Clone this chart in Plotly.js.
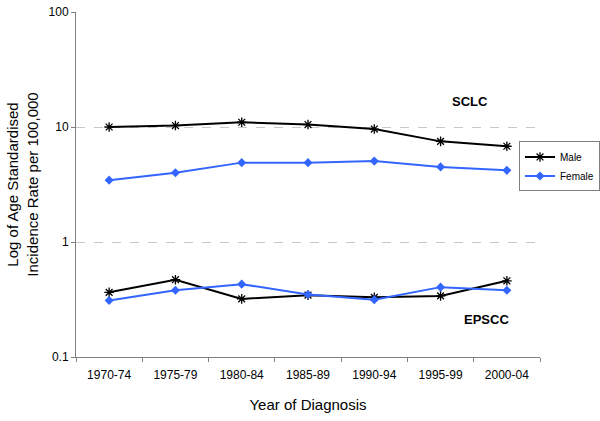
<!DOCTYPE html>
<html><head><meta charset="utf-8">
<script src="https://cdn.plot.ly/plotly-3.0.1.min.js"></script>
<style>html,body{margin:0;padding:0;background:#fff}#chart{width:600px;height:421px}</style>
</head><body><div id="chart"></div>
<script>
const periods = ["1970-74","1975-79","1980-84","1985-89","1990-94","1995-99","2000-04"];
const maleSCLC = [10.0, 10.3, 11.0, 10.5, 9.6, 7.5, 6.8];
const femaleSCLC = [3.45, 4.0, 4.9, 4.9, 5.05, 4.5, 4.2];
const maleEPSCC = [0.365, 0.47, 0.32, 0.345, 0.33, 0.34, 0.46];
const femaleEPSCC = [0.31, 0.38, 0.43, 0.35, 0.315, 0.405, 0.38];
const yTicks = [0.1, 1, 10, 100];
const yTickText = ["0.1", "1", "10", "100"];

const maleStyle = {mode:"lines+markers", line:{color:"#000000", width:2}, marker:{symbol:"asterisk-open", size:8, color:"#000000", line:{color:"#000000", width:1.3}}};
const femaleStyle = {mode:"lines+markers", line:{color:"#3366FF", width:2}, marker:{symbol:"diamond", size:7, color:"#3366FF"}};

const traces = [
  Object.assign({x:periods, y:maleSCLC, name:"Male", legendgroup:"m"}, maleStyle),
  Object.assign({x:periods, y:femaleSCLC, name:"Female", legendgroup:"f"}, femaleStyle),
  Object.assign({x:periods, y:maleEPSCC, name:"Male", legendgroup:"m", showlegend:false}, maleStyle),
  Object.assign({x:periods, y:femaleEPSCC, name:"Female", legendgroup:"f", showlegend:false}, femaleStyle)
];

const layout = {
  width:600, height:421,
  paper_bgcolor:"#fff", plot_bgcolor:"#fff",
  margin:{l:76, r:60, t:12, b:64, autoexpand:false},
  font:{family:"Liberation Sans, Arial, sans-serif", color:"#000"},
  showlegend:true,
  legend:{xref:"container", yref:"container", x:0.865, xanchor:"left", y:0.664, yanchor:"top",
    bgcolor:"#fff", bordercolor:"#808080", borderwidth:1,
    font:{size:10}, tracegroupgap:0, itemwidth:30},
  xaxis:{type:"category", range:[-0.5,6.5], showline:true, linecolor:"#808080", linewidth:1,
    ticks:"outside", tickson:"boundaries", ticklen:4, tickcolor:"#808080", ticklabelstandoff:7,
    showgrid:false, tickfont:{size:12}, zeroline:false, automargin:false,
    title:{text:"Year of Diagnosis", font:{size:15}, standoff:18}},
  yaxis:{type:"log", range:[-1,2], tickvals:yTicks, ticktext:yTickText, automargin:false,
    showline:true, linecolor:"#808080", linewidth:1, ticks:"outside", ticklen:4, tickcolor:"#808080",
    showgrid:true, gridcolor:"#c8c8c8", griddash:"dash", gridwidth:1, tickfont:{size:12}, zeroline:false,
    title:{text:"Log of Age Standardised<br>Incidence Rate per 100,000", font:{size:15}, standoff:6}},
  annotations:[
    {text:"<b>SCLC</b>", x:5.45, y:Math.log10(16.6), xref:"x", yref:"y", showarrow:false, font:{size:13}},
    {text:"<b>EPSCC</b>", x:5.7, y:Math.log10(0.21), xref:"x", yref:"y", showarrow:false, font:{size:13}}
  ]
};
Plotly.newPlot("chart", traces, layout, {displayModeBar:false, staticPlot:true});
</script></body></html>
